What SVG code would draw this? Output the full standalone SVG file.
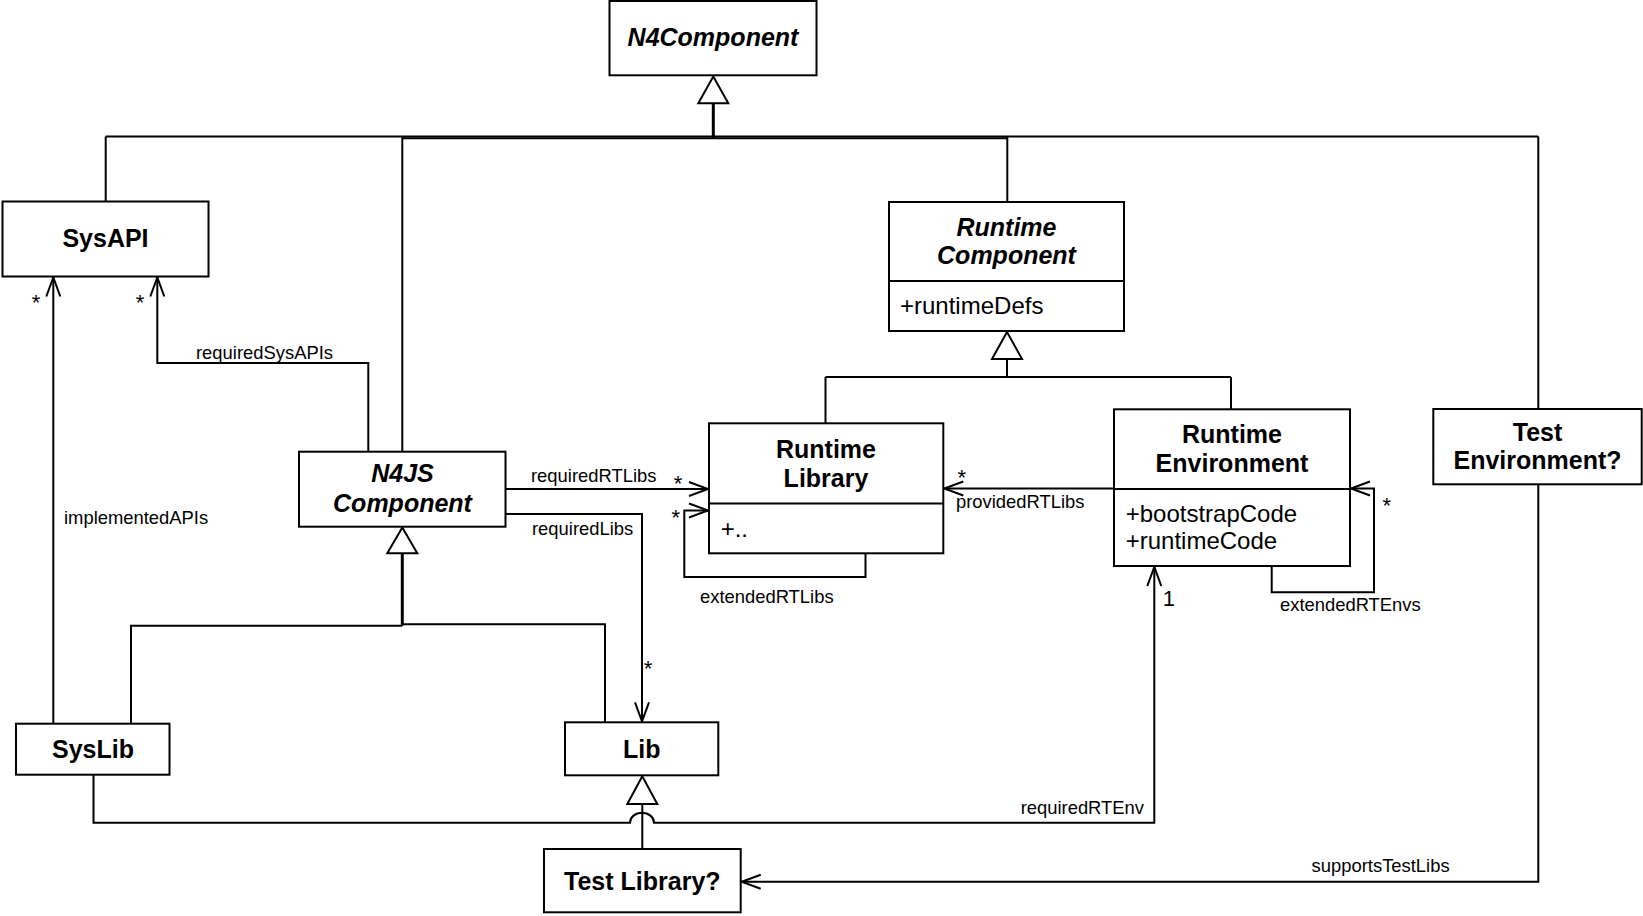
<svg xmlns="http://www.w3.org/2000/svg" width="1643" height="916" viewBox="0 0 1643 916">
<style>
.box{fill:#fff;stroke:#000;stroke-width:2}
.ln{fill:none;stroke:#000;stroke-width:2}
.thk{fill:none;stroke:#000;stroke-width:3}
.tri{fill:#fff;stroke:#000;stroke-width:2}
.t{font-family:"Liberation Sans",Arial,sans-serif;font-size:25px;font-weight:bold;text-anchor:middle;fill:#000}
.i{font-style:italic}
.a{font-family:"Liberation Sans",Arial,sans-serif;font-size:24px;fill:#000}
.l{font-family:"Liberation Sans",Arial,sans-serif;font-size:18.4px;fill:#000}
.m{font-family:"Liberation Sans",Arial,sans-serif;font-size:22px;fill:#000;text-anchor:middle}
</style>
<defs>
<marker id="arr" markerUnits="userSpaceOnUse" markerWidth="24" markerHeight="18" refX="19" refY="7" orient="auto" overflow="visible">
<path d="M0,0 L19,7 L0,14" fill="none" stroke="#000" stroke-width="2"/>
</marker>
</defs>
<rect width="1643" height="916" fill="#fff"/>

<g id="connectors">
<!-- generalization to N4Component -->
<line class="ln" x1="105.7" y1="136.5" x2="1538.3" y2="136.5"/>
<line class="ln" x1="402.3" y1="138.3" x2="1007.3" y2="138.3"/>
<line class="thk" x1="713.3" y1="103.3" x2="713.3" y2="138"/>
<polygon class="tri" points="713.3,76.5 698.3,103.3 728.3,103.3"/>
<line class="ln" x1="105.7" y1="136.5" x2="105.7" y2="201.5"/>
<line class="ln" x1="402.3" y1="136.5" x2="402.3" y2="451.5"/>
<line class="ln" x1="1007.3" y1="136.5" x2="1007.3" y2="202"/>
<line class="ln" x1="1538.3" y1="136.5" x2="1538.3" y2="409"/>

<!-- generalization to Runtime Component -->
<line class="ln" x1="1007" y1="359" x2="1007" y2="377"/>
<polygon class="tri" points="1007,332 992,359 1022,359"/>
<line class="ln" x1="825.5" y1="377" x2="1231" y2="377"/>
<line class="ln" x1="825.5" y1="377" x2="825.5" y2="423"/>
<line class="ln" x1="1231" y1="377" x2="1231" y2="409"/>

<!-- generalization to N4JS Component -->
<line class="thk" x1="402.3" y1="553.3" x2="402.3" y2="625.7"/>
<polygon class="tri" points="402.3,527.5 387.3,553.3 417.3,553.3"/>
<polyline class="ln" points="131,723.5 131,625.7 402.3,625.7"/>
<polyline class="ln" points="402.3,624.3 605,624.3 605,722.3"/>

<!-- generalization to Lib -->
<line class="ln" x1="642.3" y1="804" x2="642.3" y2="849"/>
<polygon class="tri" points="642.3,776.3 627.3,804 657.3,804"/>

<!-- associations -->
<line class="ln" x1="53.3" y1="723.5" x2="53.3" y2="277.5" marker-end="url(#arr)"/>
<polyline class="ln" points="368.3,451.5 368.3,363 157.3,363 157.3,277.5" marker-end="url(#arr)"/>
<line class="ln" x1="505.5" y1="489" x2="708" y2="489" marker-end="url(#arr)"/>
<polyline class="ln" points="505.5,514 642,514 642,721.3" marker-end="url(#arr)"/>
<polyline class="ln" points="865.5,553.3 865.5,577 684.3,577 684.3,510.5 708,510.5" marker-end="url(#arr)"/>
<line class="ln" x1="1114" y1="488.5" x2="944.3" y2="488.5" marker-end="url(#arr)"/>
<polyline class="ln" points="1271.7,566 1271.7,592.3 1374,592.3 1374,488.5 1351,488.5" marker-end="url(#arr)"/>
<path class="ln" d="M93.5,775 L93.5,822.7 L630,822.7 A12,10 0 0 1 654,822.7 L1154.3,822.7 L1154.3,567" marker-end="url(#arr)"/>
<polyline class="ln" points="1538.3,484.3 1538.3,881.7 741.7,881.7" marker-end="url(#arr)"/>

<!-- labels -->
<text class="l" x="64" y="524">implementedAPIs</text>
<text class="m" x="36" y="310">*</text>
<text class="m" x="140" y="310">*</text>
<text class="l" x="196" y="359">requiredSysAPIs</text>
<text class="l" x="531" y="482">requiredRTLibs</text>
<text class="m" x="678" y="490.6">*</text>
<text class="l" x="532" y="535">requiredLibs</text>
<text class="m" x="675.7" y="524.6">*</text>
<text class="l" x="700" y="603">extendedRTLibs</text>
<text class="m" x="648" y="675.6">*</text>
<text class="m" x="961.7" y="484.6">*</text>
<text class="l" x="956" y="508">providedRTLibs</text>
<text class="m" x="1386.7" y="512.6">*</text>
<text class="l" x="1280" y="611">extendedRTEnvs</text>
<text class="l" x="1162.7" y="605.7" style="font-size:22px">1</text>
<text class="l" x="1144" y="814" text-anchor="end">requiredRTEnv</text>
<text class="l" x="1311.6" y="872">supportsTestLibs</text>
</g>

<g id="N4Component">
<rect class="box" x="609.5" y="1" width="207" height="74.3"/>
<text class="t i" x="713" y="46">N4Component</text>
</g>

<g id="SysAPI">
<rect class="box" x="2.5" y="201.5" width="206" height="75"/>
<text class="t" x="105.5" y="247">SysAPI</text>
</g>

<g id="RuntimeComponent">
<rect class="box" x="889" y="202" width="235" height="129"/>
<line class="ln" x1="889" y1="281" x2="1124" y2="281"/>
<text class="t i" x="1006.5" y="236">Runtime</text>
<text class="t i" x="1006.5" y="264">Component</text>
<text class="a" x="900" y="314">+runtimeDefs</text>
</g>

<g id="RuntimeLibrary">
<rect class="box" x="709" y="423.3" width="234.3" height="130"/>
<line class="ln" x1="709" y1="503.5" x2="943.3" y2="503.5"/>
<text class="t" x="826" y="458">Runtime</text>
<text class="t" x="826" y="487">Library</text>
<text class="a" x="720.7" y="537">+..</text>
</g>

<g id="RuntimeEnvironment">
<rect class="box" x="1114" y="409.3" width="236" height="156.7"/>
<line class="ln" x1="1114" y1="489" x2="1350" y2="489"/>
<text class="t" x="1232" y="443.3">Runtime</text>
<text class="t" x="1232" y="471.7">Environment</text>
<text class="a" x="1125.7" y="521.7">+bootstrapCode</text>
<text class="a" x="1125.7" y="549.3">+runtimeCode</text>
</g>

<g id="TestEnvironment">
<rect class="box" x="1433.3" y="409" width="208.4" height="75.3"/>
<text class="t" x="1537.5" y="441">Test</text>
<text class="t" x="1537.5" y="469.3">Environment?</text>
</g>

<g id="N4JSComponent">
<rect class="box" x="299" y="451.7" width="206.5" height="75"/>
<text class="t i" x="402.5" y="482.3">N4JS</text>
<text class="t i" x="402.5" y="511.7">Component</text>
</g>

<g id="SysLib">
<rect class="box" x="16" y="723.7" width="153.5" height="51"/>
<text class="t" x="93" y="757.5">SysLib</text>
</g>

<g id="Lib">
<rect class="box" x="565" y="722.3" width="153.3" height="53"/>
<text class="t" x="641.7" y="758.3">Lib</text>
</g>

<g id="TestLibrary">
<rect class="box" x="544" y="849" width="196.7" height="63.3"/>
<text class="t" x="642.3" y="890">Test Library?</text>
</g>
</svg>
